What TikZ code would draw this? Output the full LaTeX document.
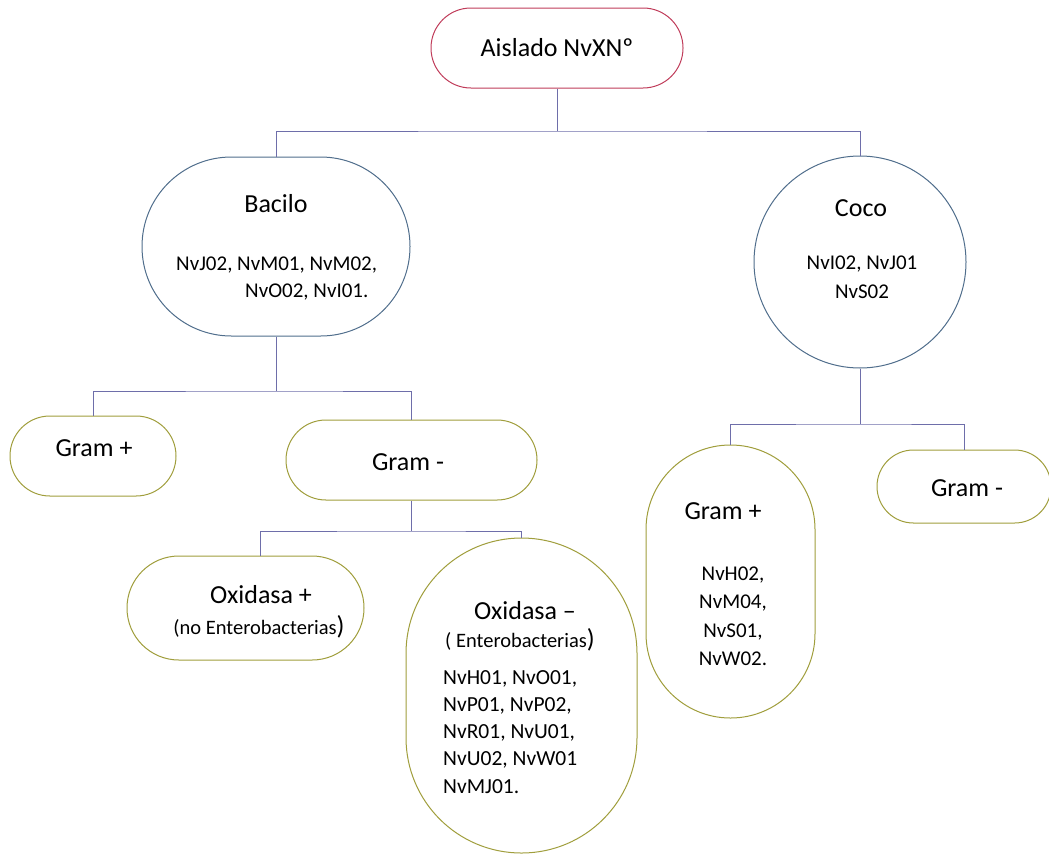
\documentclass[tikz,border=0pt]{standalone}
\usepackage{fontspec}
\setmainfont{Carlito}
\definecolor{rootc}{RGB}{192,60,90}
\definecolor{lvlc}{RGB}{80,110,140}
\definecolor{gramc}{RGB}{160,158,60}
\definecolor{connc}{RGB}{110,110,170}
\newcommand{\bigf}{\fontsize{26}{31}\selectfont}
\newcommand{\midf}{\fontsize{21}{26}\selectfont}
\newcommand{\smf}{\fontsize{20.5}{25}\selectfont}
\begin{document}
\begin{tikzpicture}[x=1pt,y=-1pt,
  shp/.style={draw, line width=1pt, inner sep=0pt, fill=white},
  rootbox/.style={shp, draw=rootc},
  lvlbox/.style={shp, draw=lvlc},
  grambox/.style={shp, draw=gramc},
  conn/.style={draw=connc, line width=1pt},
  txt/.style={inner sep=0pt, anchor=base, text=black},
  txtw/.style={inner sep=0pt, anchor=base west, text=black}]
\useasboundingbox (0,0) rectangle (1049,854);
% connectors first
\coordinate (j0) at (557,131);
\coordinate (j1) at (276,391);
\coordinate (j2) at (411.5,531);
\coordinate (j3) at (860,424);
\coordinate (oxpTop) at (260,556);
% shapes
\node[rootbox, minimum width=252pt, minimum height=80pt, rounded corners=39.9pt] (aislado) at (557,48) {};
\node[lvlbox, minimum width=268pt, minimum height=179pt, rounded corners=89.4pt] (bacilo) at (276,246.5) {};
\node[lvlbox, circle, minimum size=212pt] (coco) at (860,262) {};
\node[grambox, minimum width=166pt, minimum height=80pt, rounded corners=39.9pt] (gpl) at (93,456) {};
\node[grambox, minimum width=251pt, minimum height=80pt, rounded corners=39.9pt] (gml) at (411.5,460) {};
\node[grambox, minimum width=237pt, minimum height=104pt, rounded corners=51.9pt] (oxp) at (245.5,608) {};
\node[grambox, minimum width=231pt, minimum height=315pt, rounded corners=115.4pt] (oxm) at (521.5,695.5) {};
\node[grambox, minimum width=169pt, minimum height=273pt, rounded corners=84.4pt] (ggp) at (730.5,581.5) {};
\node[grambox, minimum width=174pt, minimum height=73pt, rounded corners=36.4pt] (ggm) at (964,486.5) {};
% connectors
\draw[conn] (aislado.south) -- (j0);
\draw[conn] (bacilo.north) |- (j0) -| (coco.north);
\draw[conn] (bacilo.south) -- (j1);
\draw[conn] (gpl.north) |- (j1) -| (gml.north);
\draw[conn] (gml.south) -- (j2);
\draw[conn] (oxpTop) |- (j2) -| (oxm.north);
\draw[conn] (coco.south) -- (j3);
\draw[conn] (ggp.north) |- (j3) -| (ggm.north);
% texts
\node[txt] (t-ais) at (557,56) {\bigf Aislado NvXNº};
\node[txt] (t-bac) at (276,212) {\bigf Bacilo};
\node[txtw] (t-bac1) at (176,270) {\midf NvJ02, NvM01, NvM02,};
\node[txtw] (t-bac2) at (245,297) {\midf NvO02, NvI01.};
\node[txt] (t-coco) at (861,216) {\bigf Coco};
\node[txt] (t-coco1) at (862,269) {\midf NvI02, NvJ01};
\node[txt] (t-coco2) at (862,298) {\midf NvS02};
\node[txt] (t-gpl) at (94,456) {\bigf Gram +};
\node[txt] (t-gml) at (408,470) {\bigf Gram -};
\node[txt] (t-oxp) at (261,603) {\bigf Oxidasa +};
\node[txt] (t-oxp2) at (259,634) {\smf (no Enterobacterias{\bigf )}};
\node[txt] (t-oxm) at (525,619) {\bigf Oxidasa –};
\node[txtw] (t-oxm2) at (445,647) {\smf ( Enterobacterias{\bigf )}};
\node[txtw] (t-oxm3) at (443,684) {\fontsize{21.5}{26}\selectfont NvH01, NvO01,};
\node[txtw] (t-oxm4) at (443,711) {\fontsize{21.5}{26}\selectfont NvP01, NvP02,};
\node[txtw] (t-oxm5) at (443,738) {\fontsize{21.5}{26}\selectfont NvR01, NvU01,};
\node[txtw] (t-oxm6) at (443,765) {\fontsize{21.5}{26}\selectfont NvU02, NvW01};
\node[txtw] (t-oxm7) at (443,793) {\fontsize{21.5}{26}\selectfont NvMJ01.};
\node[txt] (t-ggp) at (723,519) {\bigf Gram +};
\node[txt] (t-ggp1) at (733,580) {\midf NvH02,};
\node[txt] (t-ggp2) at (733,608) {\midf NvM04,};
\node[txt] (t-ggp3) at (733,637) {\midf NvS01,};
\node[txt] (t-ggp4) at (733,665) {\midf NvW02.};
\node[txt] (t-ggm) at (967,496) {\bigf Gram -};
\end{tikzpicture}
\end{document}
